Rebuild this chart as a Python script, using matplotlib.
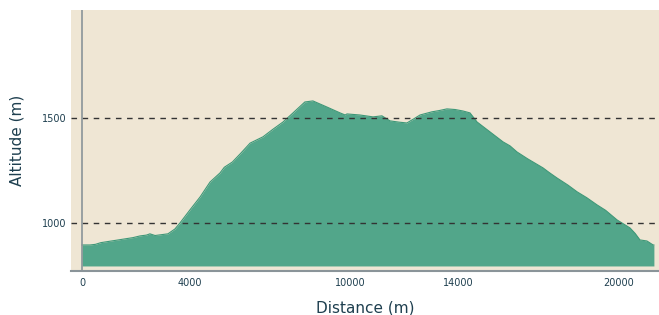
import matplotlib
matplotlib.use("Agg")
import matplotlib.pyplot as plt

# elevation profile
distance = [0, 300, 500, 700, 1000, 1300, 1600, 1900, 2160, 2400, 2530, 2720,
            2900, 3200, 3460, 3650, 4020, 4400, 4770, 5140, 5300, 5600, 5900,
            6260, 6740, 7100, 7490, 7860, 8300, 8600, 9120, 9610, 9800, 9870,
            10350, 10840, 11170, 11470, 11800, 12100, 12350, 12590, 13030,
            13300, 13590, 13900, 14190, 14450, 14710, 15200, 15680, 15940,
            16200, 16600, 17170, 17400, 17690, 18100, 18440, 18800, 19180,
            19500, 19930, 20410, 20600, 20780, 21040, 21270, 21300]
altitude = [895, 895, 898, 906, 912, 918, 924, 930, 938, 942, 948, 940,
            943, 948, 971, 1000, 1062, 1124, 1195, 1238, 1265, 1290, 1330,
            1380, 1410, 1445, 1481, 1524, 1576, 1581, 1552, 1524, 1514, 1519,
            1514, 1505, 1510, 1486, 1480, 1476, 1495, 1514, 1529,
            1535, 1543, 1540, 1533, 1524, 1481, 1433, 1386, 1367,
            1338, 1305, 1262, 1240, 1214, 1180, 1148, 1120, 1086,
            1060, 1014, 976, 950, 919, 914, 895, 895]

x_ticks = [0, 4000, 10000, 14000, 20000]
y_ticks = [1000, 1500]
baseline = 795

bg = "#EFE6D4"
green = "#52A68A"
text_col = "#1E3F4F"

fig = plt.figure(figsize=(6.59, 3.15), dpi=100)
ax = fig.add_axes([71 / 659, 1 - 271 / 315, 1 - 71 / 659, 261 / 315])
ax.set_facecolor(bg)

ax.fill_between(distance, altitude, baseline, color=green, lw=0)
ax.plot(distance, altitude, color="#3E9878", lw=0.8)

for y in y_ticks:
    ax.axhline(y, color="#333333", lw=1, ls=(0, (4, 4)), zorder=3)
ax.axvline(0, color="#8A9499", lw=1.2, zorder=4)

ax.set_xlim(-410, 21490)
ax.set_ylim(771, 2014)
ax.set_xticks(x_ticks)
ax.set_yticks(y_ticks)
ax.tick_params(length=0, labelsize=7, colors=text_col)
ax.tick_params(axis="x", pad=5)
ax.tick_params(axis="y", pad=3)

for s in ["top", "right", "left"]:
    ax.spines[s].set_visible(False)
ax.spines["bottom"].set_color("#8A9499")
ax.spines["bottom"].set_linewidth(1.5)

ax.set_xlabel("Distance (m)", fontsize=11, color=text_col, labelpad=9)
ax.set_ylabel("Altitude (m)", fontsize=11, color=text_col, labelpad=13)

fig.savefig("out.png", dpi=100)
